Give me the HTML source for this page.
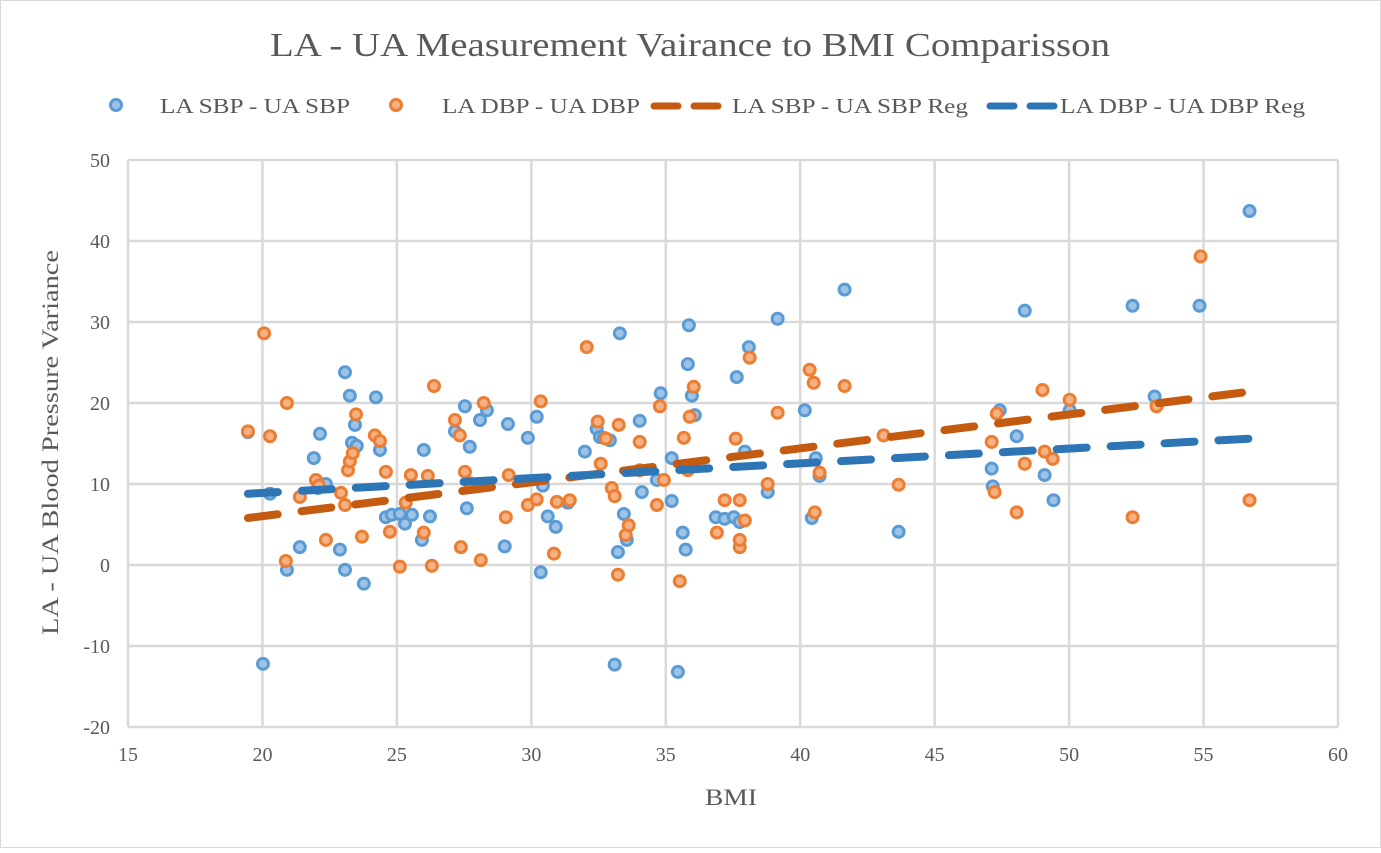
<!DOCTYPE html>
<html><head><meta charset="utf-8"><style>
body{margin:0;background:#fff}
svg text{font-family:"Liberation Serif",serif;fill:#595959}
</style></head><body>
<svg id="chart" width="1381" height="848" xmlns="http://www.w3.org/2000/svg">
<rect x="0.5" y="0.5" width="1380" height="847" fill="#fff" stroke="#d9d9d9"/>
<text x="270" y="56" font-size="34" textLength="840" lengthAdjust="spacingAndGlyphs">LA - UA Measurement Vairance to BMI Comparisson</text>
<g id="legend"></g>
<g id="grid"></g>
<g id="ticks"></g>
<g id="marks"></g>
<text x="705" y="805" font-size="23" textLength="52" lengthAdjust="spacingAndGlyphs">BMI</text>
<text transform="translate(58,635) rotate(-90)" font-size="23" textLength="385" lengthAdjust="spacingAndGlyphs">LA - UA Blood Pressure Variance</text>
</svg>
<script>
const xTicks=[15,20,25,30,35,40,45,50,55,60];
const yTicks=[-20,-10,0,10,20,30,40,50];
const sbpPoints=[[19.46,16.4],[20.02,-12.2],[20.28,8.8],[20.91,-0.6],[21.39,2.2],[21.91,13.2],[22.06,9.5],[22.14,16.2],[22.36,10.0],[22.88,1.9],[23.07,-0.6],[23.07,23.8],[23.25,20.9],[23.33,15.1],[23.44,17.3],[23.51,14.7],[23.77,-2.3],[24.22,20.7],[24.37,14.2],[24.59,5.9],[24.81,6.2],[25.11,6.3],[25.30,5.1],[25.56,6.2],[25.93,3.1],[26.00,14.2],[26.23,6.0],[27.16,16.5],[27.53,19.6],[27.60,7.0],[27.71,14.6],[28.09,17.9],[28.35,19.1],[29.01,2.3],[29.13,17.4],[29.87,15.7],[30.20,18.3],[30.35,-0.9],[30.43,9.8],[30.61,6.0],[30.91,4.7],[31.36,7.7],[31.99,14.0],[32.43,16.8],[32.55,15.8],[32.70,15.7],[32.92,15.4],[33.10,-12.3],[33.22,1.6],[33.29,28.6],[33.44,6.3],[33.55,3.1],[34.03,17.8],[34.11,9.0],[34.67,10.5],[34.81,21.2],[35.22,13.2],[35.22,7.9],[35.45,-13.2],[35.63,4.0],[35.74,1.9],[35.82,24.8],[35.86,29.6],[35.97,20.9],[36.08,18.5],[36.86,5.9],[37.19,5.7],[37.53,5.9],[37.64,23.2],[37.75,5.3],[37.94,14.0],[38.09,26.9],[38.79,9.0],[39.16,30.4],[40.17,19.1],[40.43,5.8],[40.58,13.2],[40.72,11.0],[41.65,34.0],[43.66,4.1],[47.12,11.9],[47.16,9.7],[47.42,19.1],[48.05,15.9],[48.35,31.4],[49.09,11.1],[49.42,8.0],[50.02,19.1],[52.36,32.0],[53.18,20.8],[54.85,32.0],[56.71,43.7]];
const dbpPoints=[[19.46,16.5],[20.06,28.6],[20.28,15.9],[20.87,0.5],[20.91,20.0],[21.39,8.4],[21.99,10.5],[22.10,9.8],[22.36,3.1],[22.92,8.9],[23.07,7.4],[23.18,11.7],[23.25,12.8],[23.36,13.8],[23.48,18.6],[23.70,3.5],[24.18,16.0],[24.37,15.3],[24.59,11.5],[24.74,4.1],[25.11,-0.2],[25.33,7.7],[25.52,11.1],[26.00,4.0],[26.15,11.0],[26.30,-0.1],[26.38,22.1],[27.16,17.9],[27.34,16.0],[27.38,2.2],[27.53,11.5],[27.71,10.1],[28.12,0.6],[28.23,20.0],[29.05,5.9],[29.16,11.1],[29.87,7.4],[30.20,8.1],[30.35,20.2],[30.84,1.4],[30.95,7.8],[31.43,8.0],[32.06,26.9],[32.47,17.7],[32.58,12.5],[32.77,15.6],[32.99,9.5],[33.10,8.5],[33.22,-1.2],[33.25,17.3],[33.51,3.7],[33.62,4.9],[34.03,11.7],[34.03,15.2],[34.67,7.4],[34.78,19.6],[34.93,10.5],[35.52,-2.0],[35.67,15.7],[35.82,11.7],[35.89,18.3],[36.04,22.0],[36.90,4.0],[37.19,8.0],[37.60,15.6],[37.75,2.2],[37.75,3.1],[37.75,8.0],[37.94,5.5],[38.12,25.6],[38.79,10.0],[39.16,18.8],[40.35,24.1],[40.50,22.5],[40.54,6.5],[40.72,11.4],[41.65,22.1],[43.10,16.0],[43.66,9.9],[47.12,15.2],[47.23,9.0],[47.31,18.7],[48.05,6.5],[48.35,12.5],[49.01,21.6],[49.09,14.0],[49.39,13.1],[50.02,20.4],[52.36,5.9],[53.25,19.6],[54.89,38.1],[56.71,8.0]];
const sbpReg=[[19.46,5.8],[56.71,21.4]];
const dbpReg=[[19.46,8.8],[56.71,15.6]];
const NS='http://www.w3.org/2000/svg';
const X0=128,X1=1338,Y0=727,Y1=160;
function sx(v){return X0+(v-15)/45*(X1-X0);}
function sy(v){return Y0-(v+20)/70*(Y0-Y1);}
function mk(tag,attrs,parent){const e=document.createElementNS(NS,tag);for(const k in attrs)e.setAttribute(k,attrs[k]);parent.appendChild(e);return e;}
const grid=document.getElementById('grid'),ticks=document.getElementById('ticks'),marks=document.getElementById('marks'),legend=document.getElementById('legend');
xTicks.forEach(t=>{const l=mk('line',{x1:sx(t),x2:sx(t),y1:Y1,y2:Y0,stroke:'#d9d9d9','stroke-width':2.5},grid);


const tx=mk('text',{x:sx(t),y:Y0+34,'font-size':20,'text-anchor':'middle'},ticks);tx.textContent=t;

});
yTicks.forEach(t=>{const l=mk('line',{x1:X0,x2:X1,y1:sy(t),y2:sy(t),stroke:'#d9d9d9','stroke-width':2.5},grid);


const tx=mk('text',{x:X0-18,y:sy(t)+7,'font-size':20,'text-anchor':'end'},ticks);tx.textContent=t;

});
function reg(d,color,name){const l=mk('line',{x1:sx(d[0][0]),y1:sy(d[0][1]),x2:sx(d[1][0]),y2:sy(d[1][1]),stroke:color,'stroke-width':8,'stroke-linecap':'round','stroke-dasharray':'30 24'},marks);

}
function pts(d,st,fi,name){d.forEach(p=>{const c=mk('circle',{cx:sx(p[0]),cy:sy(p[1]),r:5.5,fill:fi,stroke:st,'stroke-width':3},marks);

});}
pts(sbpPoints,'#5b9bd5','#9dc3e6','sbp-point');
pts(dbpPoints,'#ed7d31','#f4b183','dbp-point');
reg(sbpReg,'#c55a11','sbp-regression-line');
reg(dbpReg,'#2e75b6','dbp-regression-line');
const items=[{t:'LA SBP - UA SBP',type:'c',s:'#5b9bd5',f:'#9dc3e6',mx:116,tx:160,w:190},{t:'LA DBP - UA DBP',type:'c',s:'#ed7d31',f:'#f4b183',mx:396,tx:442,w:198},{t:'LA SBP - UA SBP Reg',type:'l',s:'#c55a11',mx:686,tx:732,w:236},{t:'LA DBP - UA DBP Reg',type:'l',s:'#2e75b6',mx:1022,tx:1060,w:245}];
items.forEach(it=>{const g=mk('g',{},legend);


if(it.type==='c')mk('circle',{cx:it.mx,cy:105,r:5.5,fill:it.f,stroke:it.s,'stroke-width':3},g);
else{mk('line',{x1:it.mx-32,x2:it.mx-8,y1:106,y2:106,stroke:it.s,'stroke-width':7,'stroke-linecap':'round'},g);mk('line',{x1:it.mx+8,x2:it.mx+32,y1:106,y2:106,stroke:it.s,'stroke-width':7,'stroke-linecap':'round'},g);}
const tx=mk('text',{x:it.tx,y:113,'font-size':21,textLength:it.w,lengthAdjust:'spacingAndGlyphs'},g);tx.textContent=it.t;});
</script>
</body></html>
